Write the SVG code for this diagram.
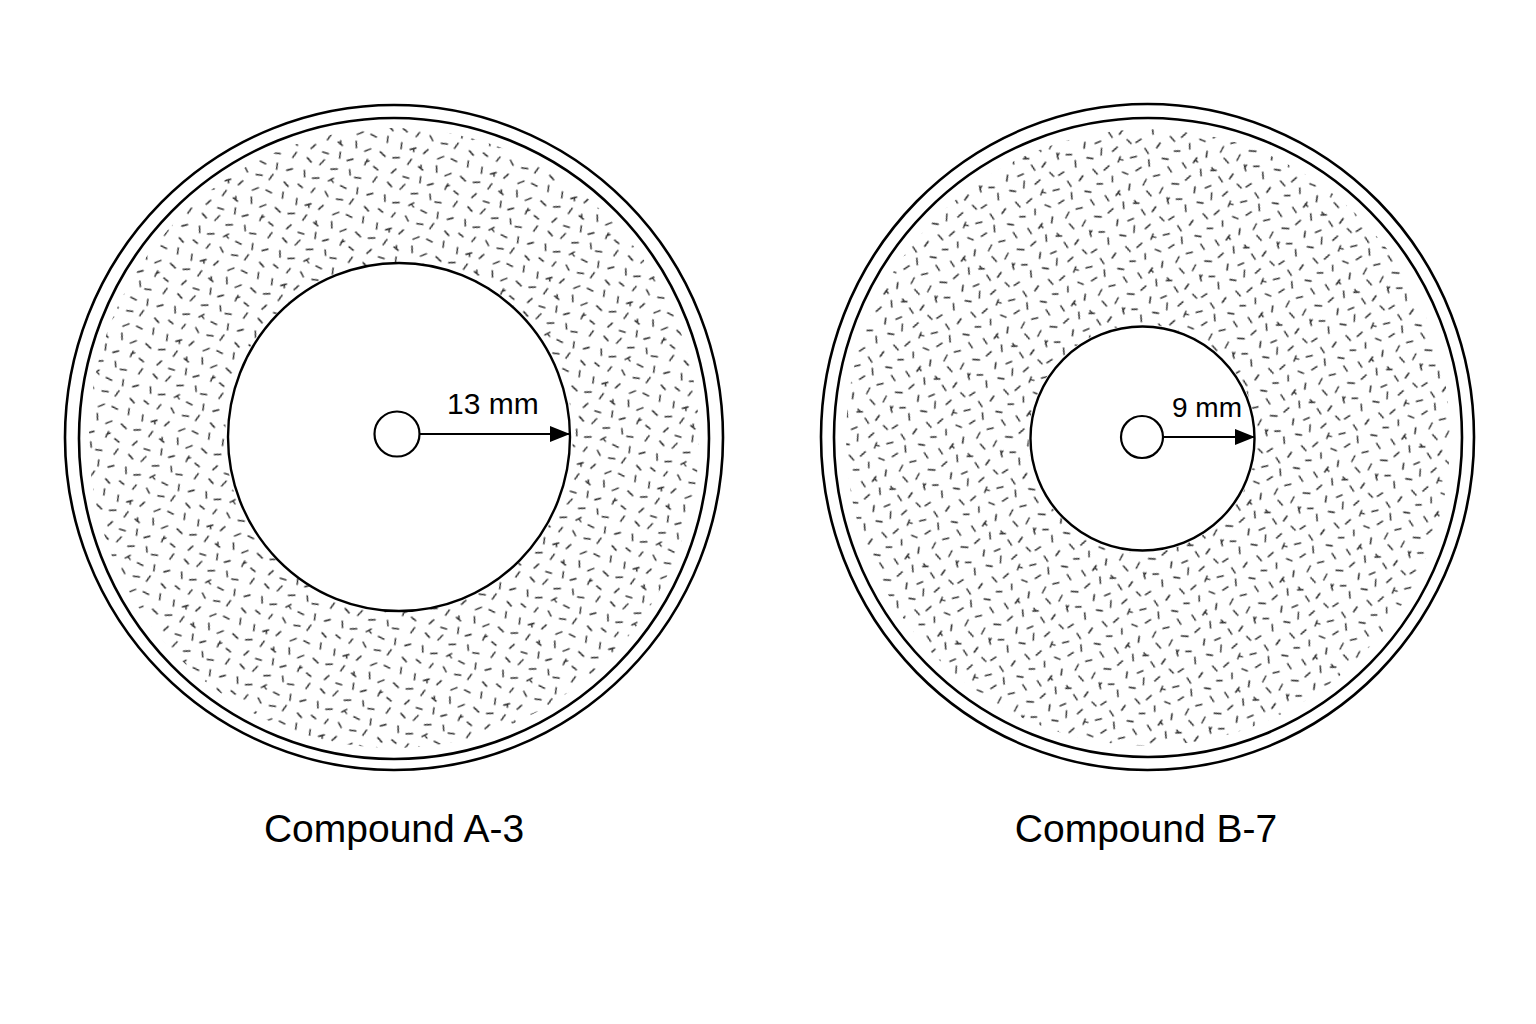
<svg xmlns="http://www.w3.org/2000/svg" width="1536" height="1024" viewBox="0 0 1536 1024">
  <style>
    .rim { fill: none; stroke: #000; stroke-width: 2.6; }
    .zone { fill: #fff; stroke: #000; stroke-width: 2.4; }
    .disc { fill: #fff; stroke: #000; stroke-width: 2.2; }
    .dim { stroke: #000; stroke-width: 2.2; fill: none; }
    .dimtxt { font-family: "Liberation Sans", Arial, sans-serif; fill: #000; }
    .label { font-family: "Liberation Sans", Arial, sans-serif; font-size: 39px; fill: #000; text-anchor: middle; }
    .dots path { fill: none; stroke: #333; stroke-width: 1.5; stroke-linecap: round; }
  </style>
  <defs>
    <g id="tile" class="dots">
      <path d="M3 5 l5 2 M18 9 l2 -5 M31 4 l4 4 M44 8 l6 -1 M60 3 l-2 6 M73 7 l5 3"/>
      <path d="M6 19 l1 6 M16 23 l5 -3 m-2 1 l1 3 M33 18 l-3 5 M45 24 l5 -4 M58 20 l6 1 M75 17 l1 6"/>
      <path d="M2 36 l6 -2 M20 32 l-2 6 M29 37 l5 2 m-2 -1 l-1 -3 M46 31 l2 6 M57 38 l5 -4 M72 34 l6 3"/>
      <path d="M8 46 l-3 5 M17 51 l6 0 M34 46 l1 6 M43 52 l5 -3 M62 45 l-1 6 m0 -3 l3 -2 M70 50 l5 2"/>
      <path d="M4 61 l5 3 M21 58 l-3 6 M30 65 l6 -2 M48 60 l2 5 M55 66 l6 -1 M76 59 l-2 6"/>
      <path d="M5 74 l2 6 M15 79 l6 -2 M35 73 l-4 4 m2 -2 l3 2 M44 78 l6 1 M61 75 l1 6 M72 79 l5 -3"/>
    </g>
    <pattern id="stippleA" width="84" height="84" patternUnits="userSpaceOnUse" patternTransform="rotate(17)">
      <use href="#tile"/>
    </pattern>
    <pattern id="stippleB" width="84" height="84" patternUnits="userSpaceOnUse" patternTransform="rotate(-23) translate(11 5)">
      <use href="#tile"/>
    </pattern>
    <marker id="arrow" viewBox="0 0 20 16" refX="20" refY="8" markerWidth="20" markerHeight="16" markerUnits="userSpaceOnUse" orient="auto">
      <path d="M0 0 L20 8 L0 16 Z" fill="#000"/>
    </marker>
  </defs>

  <rect width="1536" height="1024" fill="#fff"/>

  <g id="dish-a">
    <path fill="url(#stippleA)" fill-rule="evenodd"
      d="M89 438 A305 310 0 1 0 699 438 A305 310 0 1 0 89 438 Z M225 437 A174 174 0 1 0 573 437 A174 174 0 1 0 225 437 Z"/>
    <ellipse class="rim" cx="394" cy="437.5" rx="329" ry="332.5"/>
    <ellipse class="rim" cx="394" cy="438.5" rx="315" ry="320.5"/>
    <ellipse class="zone" cx="399" cy="437" rx="171" ry="174"/>
    <circle class="disc" cx="397" cy="434" r="22.5"/>
    <text class="dimtxt" x="447" y="414" font-size="30">13 mm</text>
    <text class="label" x="394" y="842">Compound A-3</text>
  </g>

  <g id="dish-b">
    <path fill="url(#stippleB)" fill-rule="evenodd"
      d="M846 437.5 A302 308 0 1 0 1450 437.5 A302 308 0 1 0 846 437.5 Z M1028.5 438.5 A114 114 0 1 0 1256.5 438.5 A114 114 0 1 0 1028.5 438.5 Z"/>
    <ellipse class="rim" cx="1147.5" cy="437" rx="326.5" ry="333"/>
    <ellipse class="rim" cx="1148" cy="437.5" rx="314" ry="319.5"/>
    <circle class="zone" cx="1142.5" cy="438.5" r="112"/>
    <circle class="disc" cx="1142" cy="437" r="21"/>
    <text class="dimtxt" x="1172" y="417" font-size="28">9 mm</text>
    <text class="label" x="1146" y="842">Compound B-7</text>
  </g>

  <g id="connectors">
    <line class="dim" x1="419.5" y1="434" x2="570" y2="434" marker-end="url(#arrow)"/>
    <line class="dim" x1="1163" y1="437" x2="1255" y2="437" marker-end="url(#arrow)"/>
  </g>
</svg>
